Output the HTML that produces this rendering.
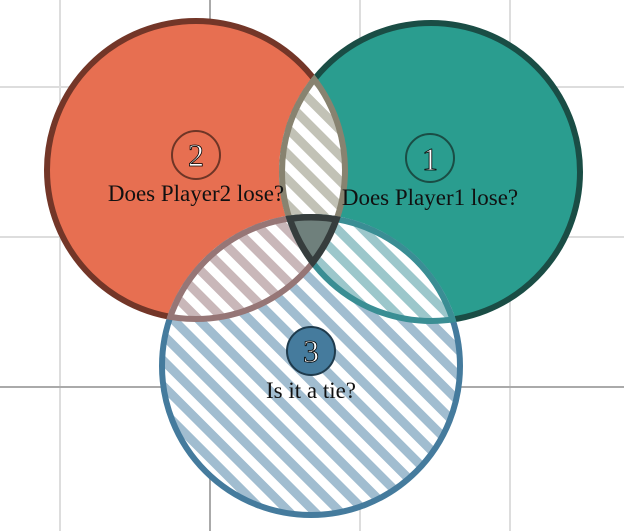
<!DOCTYPE html>
<html><head><meta charset="utf-8"><style>html,body{margin:0;padding:0;background:#fff}svg{display:block}</style></head>
<body>
<svg width="624" height="531" viewBox="0 0 624 531" xmlns="http://www.w3.org/2000/svg">
<defs>
<pattern id="pB" width="18" height="18" patternUnits="userSpaceOnUse" patternTransform="rotate(-45)"><rect width="18" height="18" fill="#fff"/><rect width="9" height="18" fill="#A1BDD0"/></pattern>
<pattern id="p12" width="18" height="18" patternUnits="userSpaceOnUse" patternTransform="rotate(-45)"><rect width="18" height="18" fill="#fff"/><rect width="9" height="18" fill="#C2C2B6"/></pattern>
<pattern id="p23" width="18" height="18" patternUnits="userSpaceOnUse" patternTransform="rotate(-45)"><rect width="18" height="18" fill="#fff"/><rect width="9" height="18" fill="#C9B7B9"/></pattern>
<pattern id="p13" width="18" height="18" patternUnits="userSpaceOnUse" patternTransform="rotate(-45)"><rect width="18" height="18" fill="#fff"/><rect width="9" height="18" fill="#9CC7CB"/></pattern>
<clipPath id="c1"><circle cx="431" cy="172" r="152"/></clipPath>
<clipPath id="c2"><circle cx="196" cy="170" r="152"/></clipPath>
<clipPath id="c3"><circle cx="311" cy="366" r="152"/></clipPath>
<clipPath id="i1"><circle cx="431" cy="172" r="149"/></clipPath>
<clipPath id="i2"><circle cx="196" cy="170" r="149"/></clipPath>
<clipPath id="i3"><circle cx="311" cy="366" r="149"/></clipPath>
</defs>
<g stroke="#ddd" stroke-width="2">
<line x1="60" y1="0" x2="60" y2="531"/><line x1="360" y1="0" x2="360" y2="531"/><line x1="510" y1="0" x2="510" y2="531"/>
<line x1="0" y1="87" x2="624" y2="87"/><line x1="0" y1="237" x2="624" y2="237"/>
</g>
<g stroke="#aaa" stroke-width="2"><line x1="210" y1="0" x2="210" y2="531"/><line x1="0" y1="387" x2="624" y2="387"/></g>
<circle cx="196" cy="170" r="149" fill="#E76F51" stroke="#733628" stroke-width="6"/>
<circle cx="431" cy="172" r="149" fill="#2A9D8F" stroke="#1A4D45" stroke-width="6"/>
<circle cx="311" cy="366" r="149" fill="url(#pB)" stroke="#457B9D" stroke-width="6"/>
<!-- 1∩2 -->
<g clip-path="url(#c1)"><circle cx="196" cy="170" r="149" fill="url(#p12)" stroke="#888370" stroke-width="6"/></g>
<g clip-path="url(#c2)"><circle cx="431" cy="172" r="149" fill="none" stroke="#888370" stroke-width="6"/></g>
<!-- 2∩3 -->
<g clip-path="url(#c3)"><circle cx="196" cy="170" r="149" fill="url(#p23)" stroke="#967676" stroke-width="6"/></g>
<g clip-path="url(#c2)"><circle cx="311" cy="366" r="149" fill="none" stroke="#967676" stroke-width="6"/></g>
<!-- 1∩3 -->
<g clip-path="url(#c3)"><circle cx="431" cy="172" r="149" fill="url(#p13)" stroke="#3A8E94" stroke-width="6"/></g>
<g clip-path="url(#c1)"><circle cx="311" cy="366" r="149" fill="none" stroke="#3A8E94" stroke-width="6"/></g>
<!-- triple -->
<g clip-path="url(#c1)"><g clip-path="url(#c2)"><g clip-path="url(#c3)">
<rect x="0" y="0" width="624" height="531" fill="#6F807C"/>
<g fill="none" stroke="#363D3D" stroke-width="9">
<circle cx="196" cy="170" r="150"/><circle cx="431" cy="172" r="150"/><circle cx="311" cy="366" r="150"/>
</g></g></g></g>
<g font-family="'Liberation Serif', serif" text-anchor="middle">
<circle cx="196" cy="155" r="24" fill="none" stroke="#6E3526" stroke-width="2"/>
<text x="196" y="166" font-size="32" fill="#fff" stroke="#000" stroke-width="0.8">2</text>
<circle cx="430" cy="158" r="24" fill="none" stroke="#1A4D45" stroke-width="2"/>
<text x="430" y="170" font-size="32" fill="#fff" stroke="#000" stroke-width="0.8">1</text>
<circle cx="311" cy="351" r="24" fill="#457B9D" stroke="#1F3B4D" stroke-width="2"/>
<text x="311" y="362" font-size="32" fill="#fff" stroke="#000" stroke-width="0.8">3</text>
<text x="196" y="201" font-size="23" fill="#111">Does Player2 lose?</text>
<text x="430" y="205" font-size="23" fill="#111">Does Player1 lose?</text>
<text x="311" y="398" font-size="23" fill="#111">Is it a tie?</text>
</g>
</svg>
</body></html>
